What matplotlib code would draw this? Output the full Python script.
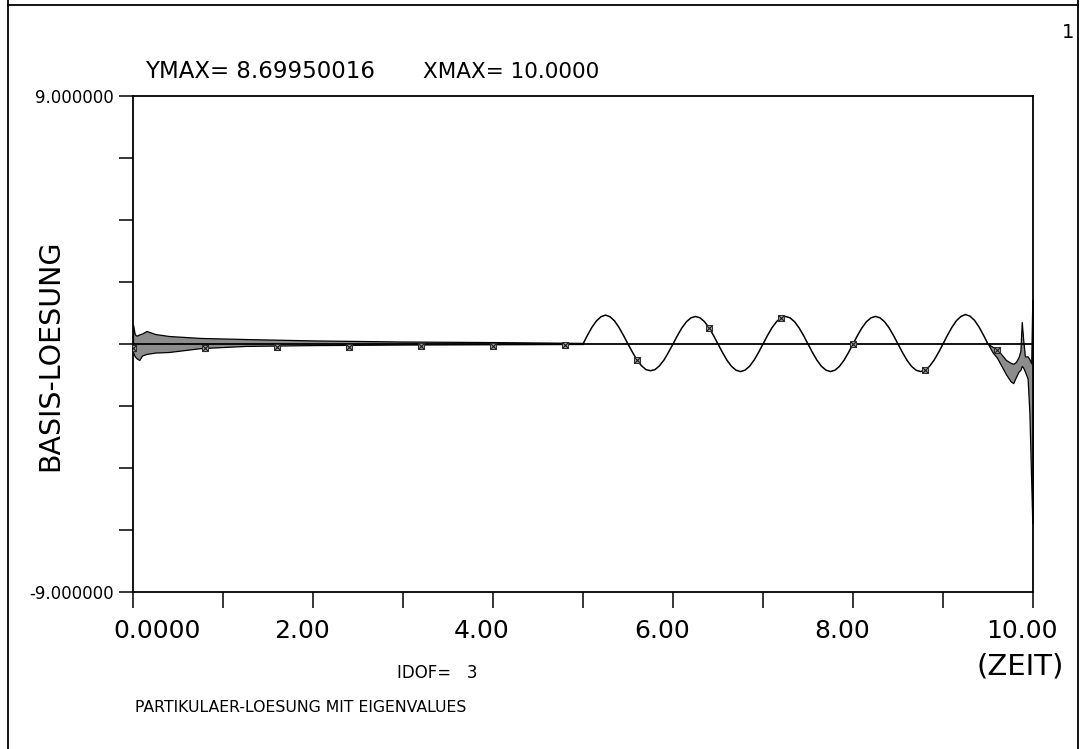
import numpy as np
import matplotlib
matplotlib.use("Agg")
import matplotlib.pyplot as plt
from matplotlib.lines import Line2D
import matplotlib.transforms as mtransforms

# ---------------- data ----------------
ref_t = [0.0, 10.0]
ref_y = [0.0, 0.0]

# decaying band (envelope of fast oscillation) 0..5
band_t = [0.0, 0.02, 0.04, 0.07, 0.10, 0.15, 0.25, 0.40, 0.75, 1.25, 2.0, 3.0, 4.0, 5.0]
band_hi = [0.70, 0.35, 0.30, 0.35, 0.38, 0.47, 0.36, 0.29, 0.22, 0.18, 0.13, 0.09, 0.07, 0.04]
band_lo = [-0.30, -0.45, -0.52, -0.58, -0.42, -0.36, -0.31, -0.29, -0.15, -0.07, -0.04, -0.02, -0.01, 0.0]

# oscillating solution 5..9.5 (step 0.05)
osc_t = np.round(np.arange(5.0, 9.5001, 0.05), 2)
osc_y = [0.00, 0.32, 0.61, 0.84, 0.99, 1.05, 0.99, 0.84, 0.60, 0.31, 0.00,
         -0.30, -0.58, -0.79, -0.93, -0.97, -0.93, -0.79, -0.58, -0.30,
         0.00, 0.31, 0.59, 0.81, 0.95, 1.00, 0.95, 0.81, 0.59, 0.31, 0.00,
         -0.31, -0.59, -0.81, -0.95, -1.00, -0.95, -0.81, -0.59, -0.31,
         0.00, 0.31, 0.59, 0.81, 0.95, 1.00, 0.95, 0.81, 0.59, 0.31, 0.00,
         -0.31, -0.59, -0.81, -0.95, -1.00, -0.95, -0.81, -0.59, -0.31,
         0.00, 0.31, 0.59, 0.81, 0.95, 1.00, 0.95, 0.81, 0.59, 0.31, 0.00,
         -0.31, -0.59, -0.81, -0.95, -1.00, -0.95, -0.81, -0.59, -0.31,
         0.00, 0.32, 0.61, 0.85, 1.00, 1.07, 1.01, 0.86, 0.62, 0.32, 0.00]

# unstable tail 9.5..10
tail_t = [9.50, 9.55, 9.60, 9.65, 9.70, 9.75, 9.78, 9.81, 9.84, 9.86, 9.875, 9.89, 9.91, 9.94, 9.96, 9.98, 9.992, 10.0]
tail_hi = [0.00, -0.10, -0.18, -0.38, -0.58, -0.68, -0.72, -0.65, -0.47, -0.25, 0.80, 0.20, -0.45, -0.45, -0.55, -0.70, 1.60, 1.60]
tail_lo = [0.00, -0.30, -0.50, -0.80, -1.10, -1.35, -1.42, -1.20, -1.00, -0.94, -0.80, -0.85, -1.00, -1.25, -2.50, -5.00, -6.50, -6.50]

# markers every 0.8
mark_t = [0.0, 0.8, 1.6, 2.4, 3.2, 4.0, 4.8, 5.6, 6.4, 7.2, 8.0, 8.8, 9.6]
mark_y = [-0.15, -0.15, -0.12, -0.10, -0.08, -0.06, -0.05, -0.59, 0.59, 0.95, 0.00, -0.95, -0.22]

xticks = [0, 1, 2, 3, 4, 5, 6, 7, 8, 9, 10]
xtick_labels = ["0.0000", "", "2.00", "", "4.00", "", "6.00", "", "8.00", "", "10.00"]
yticks = [-9.0, -6.75, -4.5, -2.25, 0.0, 2.25, 4.5, 6.75, 9.0]
ytick_labels = ["-9.000000", "", "", "", "", "", "", "", "9.000000"]

# ---------------- figure ----------------
W, H = 1080, 749
fig = plt.figure(figsize=(W / 100, H / 100), dpi=100)
fig.patch.set_facecolor("white")

def fx(px):
    return px / W

def fy(py):
    return 1 - py / H

ax = fig.add_axes([fx(133), fy(592), fx(1033) - fx(133), fy(96) - fy(592)])
ax.set_xlim(0, 10)
ax.set_ylim(-9, 9)

ax.plot(ref_t, ref_y, color="black", lw=1.3, zorder=3)
ax.fill_between(band_t, band_lo, band_hi, facecolor="0.55", edgecolor="black", lw=0.9, zorder=2)
ax.plot(osc_t, osc_y, color="black", lw=1.1, zorder=3)
ax.fill_between(tail_t, tail_lo, tail_hi, facecolor="0.55", edgecolor="black", lw=0.9, zorder=2)
ax.plot(mark_t, mark_y, ls="none", marker="s", ms=4.5, mfc="0.65", mec="0.2", mew=0.8, zorder=4)
ax.plot(mark_t, mark_y, ls="none", marker="x", ms=4.5, mec="0.1", mew=0.8, zorder=5)

for s in ax.spines.values():
    s.set_linewidth(1.3)

ax.set_xticks(xticks)
ax.set_xticklabels(xtick_labels, fontsize=18, family="DejaVu Sans")
ax.set_yticks(yticks)
ax.set_yticklabels(ytick_labels, fontsize=12, family="DejaVu Sans")
ax.tick_params(axis="x", direction="out", length=11.5, width=1.1, pad=8)
ax.tick_params(axis="y", direction="out", length=10, width=1.1, pad=4)

# shift x tick labels slightly left as in reference
for i, lab in enumerate(ax.get_xticklabels()):
    dx = 24 / 100 if i == 0 else -11 / 100
    lab.set_transform(lab.get_transform() + mtransforms.ScaledTranslation(dx, 0, fig.dpi_scale_trans))

fam = "DejaVu Sans"
fig.text(fx(145), fy(72), "YMAX= 8.69950016", fontsize=16.5, family=fam, va="center", ha="left")
fig.text(fx(423), fy(72), "XMAX= 10.0000", fontsize=15.5, family=fam, va="center", ha="left")
fig.text(fx(1068), fy(32), "1", fontsize=14, family=fam, va="center", ha="center")
fig.text(fx(50), fy(355), "BASIS-LOESUNG", fontsize=20.5, family=fam, rotation=90, va="center", ha="center")
fig.text(fx(397), fy(673), "IDOF=   3", fontsize=12, family=fam, va="center", ha="left")
fig.text(fx(1020), fy(667), "(ZEIT)", fontsize=21, family=fam, va="center", ha="center")
fig.text(fx(135), fy(708), "PARTIKULAER-LOESUNG MIT EIGENVALUES", fontsize=11.3, family=fam, va="center", ha="left")

# page frame
for (x0, y0, x1, y1) in [(8, 0, 8, H), (1078, 0, 1078, H), (8, 5, 1078, 5)]:
    fig.add_artist(Line2D([fx(x0), fx(x1)], [fy(y0), fy(y1)], color="black", lw=1.3, transform=fig.transFigure))

fig.savefig("out.png", dpi=100)
